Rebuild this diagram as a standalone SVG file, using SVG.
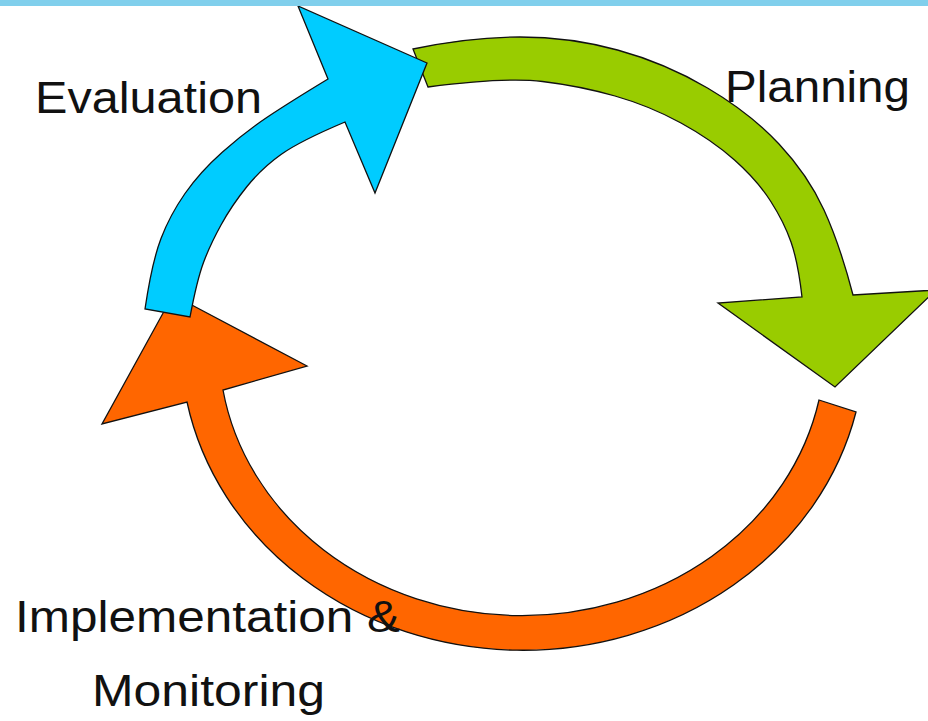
<svg xmlns="http://www.w3.org/2000/svg" width="928" height="721" viewBox="0 0 928 721">
<style>
.arrow{stroke:#111;stroke-width:1.3;stroke-linejoin:miter}
.blue{fill:#00CCFF}
.green{fill:#99CC00}
.orange{fill:#FF6600}
.label{font-family:"Liberation Sans",Arial,sans-serif;font-size:44px;fill:#111}
</style>
<rect x="0" y="0" width="928" height="721" fill="#ffffff"/>
<g id="connectors">
<path id="arrow-implementation" class="arrow orange" d="M819,400 L856,412 A342,307 0 0 1 187,402 L102,424 L173,295 L307,366 L223,390 A303,269 0 0 0 819,400 Z"/>
<path id="arrow-planning" class="arrow green" d="M413,49 Q470,37 520,37 Q570,37 617.5,50 Q665,63 707.5,88 Q750,113 779,144 Q808,175 824,210 Q840,245 853,295 L936,290 L835,387 L718,303 L802,297 Q798,262 791,242 Q784,222 770.5,201 Q757,180 734.5,160 Q712,140 681,123 Q650,106 615,96 Q580,86 542.5,81.5 Q505,77 428,87 Z"/>
<path id="arrow-evaluation" class="arrow blue" d="M145,309 Q152,262 161,238.5 Q170,215 185,193.5 Q200,172 222.5,152 Q245,132 267.5,117 Q290,102 328,79 L298,6 L427,63 L375,193 L345,122 Q300,141 281,154.5 Q262,168 247,186.5 Q232,205 221,225 Q210,245 203.5,262.5 Q197,280 190,317 Z"/>
</g>
<g id="node-evaluation">
<text class="label" x="35" y="113" textLength="227" lengthAdjust="spacingAndGlyphs">Evaluation</text>
</g>
<g id="node-planning">
<text class="label" x="725" y="102" textLength="185" lengthAdjust="spacingAndGlyphs">Planning</text>
</g>
<g id="node-implementation">
<text class="label" x="15" y="632" textLength="385" lengthAdjust="spacingAndGlyphs">Implementation &amp;</text>
<text class="label" x="92" y="706" textLength="233" lengthAdjust="spacingAndGlyphs">Monitoring</text>
</g>
<rect id="top-bar" x="0" y="0" width="928" height="6" fill="#80CFEC"/>
</svg>
